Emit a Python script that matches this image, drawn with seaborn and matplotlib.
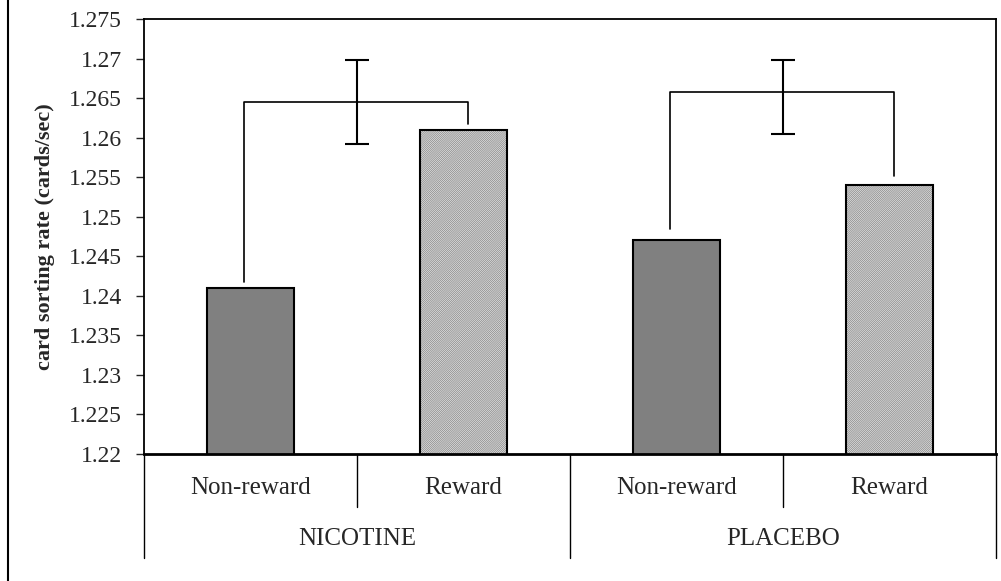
import matplotlib
matplotlib.use("Agg")
import matplotlib.pyplot as plt
from matplotlib.lines import Line2D
from matplotlib.patches import Rectangle
import matplotlib.transforms as mtransforms
import pandas as pd
import seaborn as sns

sns.set_style("white")
plt.rcParams['font.family'] = ['Liberation Serif', 'DejaVu Serif']
plt.rcParams['hatch.linewidth'] = 0.6

# data
groups = ["NICOTINE", "NICOTINE", "PLACEBO", "PLACEBO"]
conditions = ["Non-reward", "Reward", "Non-reward", "Reward"]
rates = [1.241, 1.261, 1.247, 1.254]

# comparison brackets (one per drug group)
bracket_group = ["NICOTINE", "PLACEBO"]
bracket_level = [1.2645, 1.2658]
bracket_left_end = [1.2418, 1.2484]
bracket_right_end = [1.2617, 1.2551]
diff_center = [1.2645, 1.2651]
diff_err = [0.0053, 0.0047]

yticks = [1.22, 1.225, 1.23, 1.235, 1.24, 1.245, 1.25, 1.255, 1.26, 1.265, 1.27, 1.275]

df = pd.DataFrame({"group": groups, "condition": conditions, "rate": rates})
df["slot"] = df["group"] + " " + df["condition"]
slots = list(df["slot"])

fig = plt.figure(figsize=(10.01, 5.81), dpi=100)
ax = fig.add_axes([144 / 1001, 1 - 454 / 581, 852 / 1001, 435 / 581])

pal = {s: ("#808080" if c == "Non-reward" else "#ffffff") for s, c in zip(slots, conditions)}
sns.barplot(data=df, x="slot", y="rate", hue="slot", order=slots, palette=pal,
            legend=False, width=0.41, edgecolor="black", linewidth=1.5,
            saturation=1, ax=ax)

# hatch the reward bars with a fine grey pattern, keep black outline
for p in list(ax.patches):
    if p.get_facecolor()[0] > 0.9:
        p.set_facecolor("#ececec")
        p.set_hatch("/" * 16)
        p.set_edgecolor("#8e8e8e")
        p.set_linewidth(0)
        ax.add_patch(Rectangle(p.get_xy(), p.get_width(), p.get_height(),
                               fill=False, edgecolor="black", linewidth=1.5, zorder=3))

ax.set_ylim(1.22, 1.275)
ax.set_xlim(-0.5, 3.5)
ax.set_yticks(yticks)
ax.set_yticklabels(["%g" % t for t in yticks], fontsize=17)
ax.tick_params(axis="y", direction="out", length=6, width=1, left=True, pad=10)
ax.tick_params(axis="x", bottom=False, labelbottom=False)
ax.set_xlabel("")
ax.set_ylabel("card sorting rate (cards/sec)", fontsize=16, fontweight="bold")
ax.yaxis.set_label_coords(-89 / 852, 0.5)
for side in ["left", "right", "top"]:
    ax.spines[side].set_visible(True)
    ax.spines[side].set_color("black")
    ax.spines[side].set_linewidth(1.3)
ax.spines["bottom"].set_linewidth(2)
ax.spines["bottom"].set_color("black")

# brackets and error bars between conditions
for i, g in enumerate(bracket_group):
    base = 0 if g == "NICOTINE" else 2
    xl = base - 0.03
    xr = base + 1 + 0.02
    y = bracket_level[i]
    ax.plot([xl, xl, xr, xr], [bracket_left_end[i], y, y, bracket_right_end[i]],
            color="black", lw=1.2, zorder=4)
    ax.errorbar(base + 0.5, diff_center[i], yerr=diff_err[i], color="black",
                lw=1.5, capsize=8.5, capthick=1.5, zorder=5)

# two-level category axis under the plot
trans = mtransforms.blended_transform_factory(ax.transData, ax.transAxes)
for x in [-0.5, 1.5, 3.5]:
    ax.add_line(Line2D([x, x], [0, -104 / 435], transform=trans, color="black",
                       lw=1, clip_on=False))
for x in [0.5, 2.5]:
    ax.add_line(Line2D([x, x], [0, -53 / 435], transform=trans, color="black",
                       lw=1, clip_on=False))
for i, c in enumerate(conditions):
    ax.text(i, -34 / 435, c, transform=trans, ha="center", va="center", fontsize=18)
for x, g in zip([0.5, 2.5], ["NICOTINE", "PLACEBO"]):
    ax.text(x, -85 / 435, g, transform=trans, ha="center", va="center", fontsize=18)

# left edge of the outer chart frame
fig.add_artist(Line2D([8 / 1001, 8 / 1001], [0, 1], color="black", lw=1.5))

fig.savefig("out.png", dpi=100)
